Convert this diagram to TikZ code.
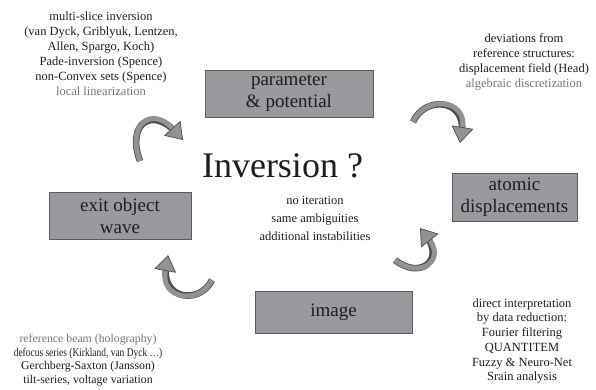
\documentclass[tikz,border=0pt]{standalone}
\usepackage{fontspec}
\setmainfont{Liberation Serif}
\usepackage{xcolor}
\usepackage{graphicx}
\usetikzlibrary{arrows.meta}

\definecolor{boxgray}{HTML}{9A9A9E}
\definecolor{boxedge}{HTML}{5C5C5E}
\definecolor{arrowgray}{HTML}{929296}
\definecolor{arrowedge}{HTML}{4E4E50}
\definecolor{textdark}{HTML}{1E1E1E}
\definecolor{textsoft}{HTML}{767676}

\tikzset{
  stage/.style={draw=boxedge, fill=boxgray, line width=0.8pt, inner sep=0pt,
    align=center, text=textdark, font=\fontsize{19}{22}\selectfont},
  notes/.style={align=center, text=textdark, font=\fontsize{12.5}{15}\selectfont},
  turnarrow/.style={line width=5pt, draw=arrowgray,
    preaction={-, draw=arrowedge, line width=6.6pt, shorten >=10pt},
    -{Triangle[length=16pt, width=22pt, fill=arrowgray, color=arrowedge, line width=0.7pt]}},
}

\begin{document}
\begin{tikzpicture}[x=1pt,y=1pt]
        \useasboundingbox (0,0) rectangle (596,389);

        % draw the four stages
        \node[stage, minimum width=168pt, minimum height=47pt] (param) at (289,295.5) {parameter\\\& potential};
        \node[stage, minimum width=125pt, minimum height=48pt] (atomic) at (514.5,192) {atomic\\displacements};
        \node[stage, minimum width=157pt, minimum height=42pt] (image) at (333.5,77) {image};
        \node[stage, minimum width=142pt, minimum height=47pt] (exitwave) at (120,173.5) {exit object\\wave};

        % the question in the middle
        \node[anchor=base, text=textdark, font=\fontsize{36}{40}\selectfont] (inversion) at (282.5,212) {Inversion ?};
        \node[notes, font=\fontsize{12.5}{18}\selectfont] (direct) at (315,171) {no iteration\\same ambiguities\\additional instabilities};

        % methods for each step
        \node[notes] (multislice) at (101,335) {multi-slice inversion\\(van Dyck, Griblyuk, Lentzen,\\Allen, Spargo, Koch)\\Pade-inversion (Spence)\\non-Convex sets (Spence)\\\textcolor{textsoft}{local linearization}};
        \node[notes] (deviations) at (524,327.5) {deviations from\\reference structures:\\displacement field (Head)\\\textcolor{textsoft}{algebraic discretization}};
        \node[notes, font=\fontsize{12.5}{14.7}\selectfont] (reduction) at (522,48) {direct interpretation\\by data reduction:\\Fourier filtering\\QUANTITEM\\Fuzzy \& Neuro-Net\\Srain analysis};
        \node[notes, font=\fontsize{11.8}{13.5}\selectfont] (holography) at (88,29) {\textcolor{textsoft}{reference beam (holography)}\\\scalebox{0.8}[1]{defocus series (Kirkland, van Dyck …)}\\Gerchberg-Saxton (Jansson)\\tilt-series, voltage variation};

        % tails and tips of the turning arrows
        \foreach \n/\px/\py in {tailA/140/228, tipA/183/249,
                                tailB/413/267, tipB/460/246,
                                tailC/395/129, tipC/420/161,
                                tailD/212/109, tipD/168/134}
                \coordinate (\n) at (\px,\py);

        % draw the turning arrows
        \draw[turnarrow] (tailA) .. controls +(-14,37) and +(-31,34) .. (tipA);
        \draw[turnarrow] (tailB) .. controls +(12,27) and +(7,44) .. (tipB);
        \draw[turnarrow] (tailC) .. controls +(25,-20) and +(25,-32) .. (tipC);
        \draw[turnarrow] (tailD) .. controls +(-12,-25) and +(-8,-45) .. (tipD);
\end{tikzpicture}
\end{document}
